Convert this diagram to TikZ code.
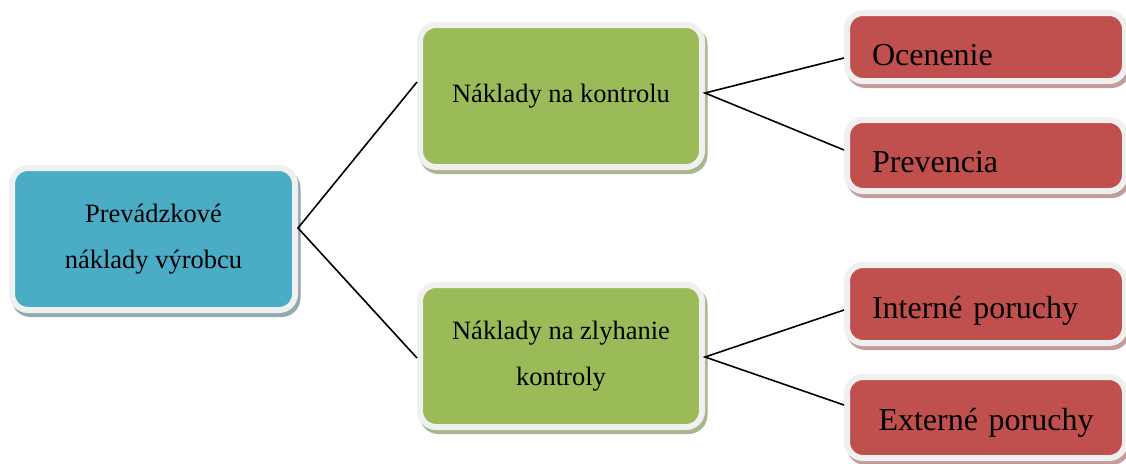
\documentclass[tikz,border=0pt]{standalone}
\usepackage{fontspec}
\setmainfont{Liberation Serif}
\definecolor{bluefill}{HTML}{4BACC6}
\definecolor{greenfill}{HTML}{9BBB59}
\definecolor{redfill}{HTML}{C0504D}
\definecolor{borderc}{HTML}{F0F0F0}
\definecolor{blueshadow}{HTML}{93A9B0}
\definecolor{greenshadow}{HTML}{A9B68E}
\definecolor{redshadow}{HTML}{C49C9C}
\begin{document}
\begin{tikzpicture}[x=1pt,y=-1pt,
  box/.style={rectangle, rounded corners=16pt, draw=borderc, line width=6pt, inner sep=0pt},
  sh/.style={preaction={draw=#1, fill=#1, line width=6pt, transform canvas={shift={(2.5pt,-4pt)}}}},
  bluebox/.style={box, sh=blueshadow, fill=bluefill, minimum width=283pt, minimum height=142pt,
    align=center, font=\fontsize{26.5pt}{46pt}\selectfont},
  greenbox/.style={box, sh=greenshadow, fill=greenfill, minimum width=282pt, minimum height=142pt,
    align=center, font=\fontsize{26.5pt}{46pt}\selectfont},
  redbox/.style={box, sh=redshadow, fill=redfill, minimum width=278pt, text width=228pt,
    inner xsep=25pt, text depth=0pt, font=\fontsize{32pt}{38pt}\selectfont},
  conn/.style={draw=black, line width=1.6pt}]
\useasboundingbox (0,0) rectangle (1126,463);

\node[bluebox] (root) at (153.5,239) {Prevádzkové\\náklady výrobcu};
\node[greenbox] (g1) at (561,96) {Náklady na kontrolu};
\node[greenbox] (g2) at (561,356) {Náklady na zlyhanie\\kontroly};
\node[redbox, minimum height=68pt, text height=36pt, align=left] (r1) at (986,47) {Ocenenie};
\node[redbox, minimum height=71pt, text height=33pt, align=left] (r2) at (986,155.5) {Prevencia};
\node[redbox, minimum height=78pt, text height=28pt, align=left] (r3) at (986,304) {Interné poruchy};
\node[redbox, minimum height=81pt, text height=25pt, align=center] (r4) at (986,417.5) {Externé poruchy};

\draw[conn] ([yshift=14pt]g1.west) -- ([yshift=11pt]root.east) -- ([yshift=-2pt]g2.west);
\draw[conn] ([yshift=-11pt]r1.west) -- ([yshift=3pt]g1.east) -- ([yshift=5.5pt]r2.west);
\draw[conn] ([yshift=-6pt]r3.west) -- ([yshift=-1pt]g2.east) -- ([yshift=12.5pt]r4.west);
\end{tikzpicture}
\end{document}
